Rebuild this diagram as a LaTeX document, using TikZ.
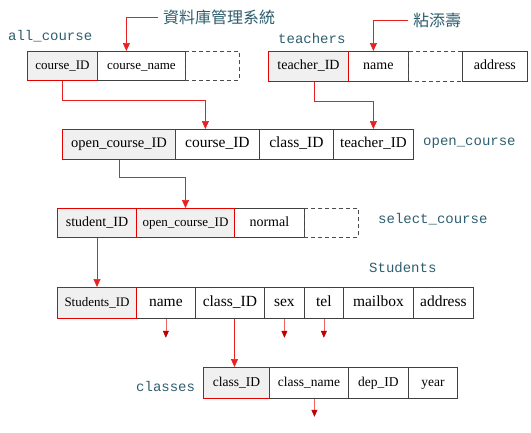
\documentclass[tikz,border=0pt]{standalone}
\usepackage{fontspec}
\setmainfont{Liberation Serif}
\setmonofont{Liberation Mono}
\newfontfamily\cjk{Noto Sans CJK TC}
\usetikzlibrary{arrows.meta}
\definecolor{lbl}{HTML}{2E5E6E}
\definecolor{keyfill}{HTML}{F0F0F0}
\definecolor{lnk}{HTML}{E82020}
\definecolor{darklnk}{HTML}{C00000}
\newcommand{\fs}[1]{\fontsize{#1}{#1}\selectfont}
\begin{document}
\begin{tikzpicture}[x=1pt,y=-1pt,
  cellbase/.style={anchor=north west, inner sep=0pt, minimum height=30, font=\fs{14}, text=black, text height=0.75em, text depth=0.1em},
  plain/.style={cellbase, draw=black!75, fill=white, line width=0.8pt},
  keycell/.style={cellbase, draw=red!90!black, fill=keyfill, line width=1pt},
  emptycell/.style={cellbase, draw=black!70, dash pattern=on 4pt off 3pt, line width=0.8pt},
  tlabel/.style={font=\ttfamily\fs{14}, text=lbl, anchor=west, inner sep=0pt},
  cjklabel/.style={font=\cjk\fs{16}, text=lbl, anchor=west, inner sep=0pt},
  link/.style={draw=lnk, line width=0.7pt, -{Triangle[width=7pt,length=8pt]}},
  stub/.style={draw=lnk!70, line width=0.7pt, -{Triangle[width=6pt,length=7pt,color=darklnk]}},
]
\useasboundingbox (0,0) rectangle (531,432);

% ---- row 1: all_course and teachers
\node[tlabel] (lac) at (8,36) {all\_course};
\node[tlabel] (lte) at (278,38) {teachers};
\node[cjklabel] (t1) at (163,17) {資料庫管理系統};
\node[cjklabel] (t2) at (413,20) {粘添壽};

\node[plain, minimum width=88, minimum height=29, font=\fs{13}] (ac2) at (97,51) {course\_name};
\node[emptycell, minimum width=54, minimum height=29] (ac3) at (185,51) {};
\node[keycell, minimum width=70, minimum height=29, font=\fs{13}] (ac1) at (27,51) {course\_ID};

\node[plain, minimum width=60] (tc2) at (348,51) {name};
\node[emptycell, minimum width=54] (tc3) at (408,51) {};
\node[plain, minimum width=65] (tc4) at (462,51) {address};
\node[keycell, minimum width=80] (tc1) at (268,51) {teacher\_ID};

% ---- row 2: open_course
\node[tlabel] (loc) at (423,143) {open\_course};
\node[plain, minimum width=84, font=\fs{15.5}] (oc2) at (175,129) {course\_ID};
\node[plain, minimum width=74, font=\fs{15.5}] (oc3) at (259,129) {class\_ID};
\node[plain, minimum width=80, font=\fs{15}] (oc4) at (333,129) {teacher\_ID};
\node[keycell, minimum width=113, font=\fs{14.5}] (oc1) at (62,129) {open\_course\_ID};

% ---- row 3: select_course
\node[tlabel] (lsc) at (378,219) {select\_course};
\node[plain, minimum width=70, minimum height=29] (sc3) at (234,208) {normal};
\node[emptycell, minimum width=54, minimum height=29] (sc4) at (304,208) {};
\node[keycell, minimum width=79, minimum height=29] (sc1) at (57,208) {student\_ID};
\node[keycell, minimum width=98, minimum height=29, font=\fs{13}] (sc2) at (136,208) {open\_course\_ID};

% ---- row 4: Students
\node[tlabel] (lst) at (369,268) {Students};
\node[plain, minimum width=59, minimum height=31, font=\fs{15.5}] (s2) at (136,287) {name};
\node[plain, minimum width=69, minimum height=31, font=\fs{15.5}] (s3) at (195,287) {class\_ID};
\node[plain, minimum width=40, minimum height=31, font=\fs{15.5}] (s4) at (264,287) {sex};
\node[plain, minimum width=39, minimum height=31, font=\fs{15.5}] (s5) at (304,287) {tel};
\node[plain, minimum width=70, minimum height=31, font=\fs{15.5}] (s6) at (343,287) {mailbox};
\node[plain, minimum width=60, minimum height=31, font=\fs{15.5}] (s7) at (413,287) {address};
\node[keycell, minimum width=79, minimum height=31, font=\fs{13}] (s1) at (57,287) {Students\_ID};

% ---- row 5: classes
\node[tlabel] (lcl) at (136,386) {classes};
\node[plain, minimum width=79, minimum height=31, font=\fs{13.5}] (c2) at (269,367) {class\_name};
\node[plain, minimum width=60, minimum height=31, font=\fs{13.5}] (c3) at (348,367) {dep\_ID};
\node[plain, minimum width=49, minimum height=31, font=\fs{13.5}] (c4) at (408,367) {year};
\node[keycell, minimum width=66, minimum height=31, font=\fs{13.5}] (c1) at (203,367) {class\_ID};

% ---- connectors
\draw[link] ([xshift=-5]t1.west) -| ([xshift=-15]ac2.north);
\draw[link] ([xshift=-5]t2.west) -| ([xshift=-5]tc2.north);
\draw[link] (ac1.south) -- ++(0,19) -| ([xshift=-12]oc2.north);
\draw[link] ([xshift=6]tc1.south) -- ++(0,19) -| (oc4.north);
\draw[link] (oc1.south) -- ++(0,17) -| (sc2.north);
\draw[link] (sc1.south) -- (s1.north);
\draw[link] ([xshift=4.5]s3.south) -- ([xshift=-2]c1.north);

\coordinate (e1) at ([yshift=-19]s2.south);
\coordinate (e2) at ([yshift=-19]s4.south);
\coordinate (e3) at ([yshift=-19]s5.south);
\coordinate (e4) at ([xshift=5.5,yshift=-18]c2.south);
\draw[stub] (s2.south) -- (e1);
\draw[stub] (s4.south) -- (e2);
\draw[stub] (s5.south) -- (e3);
\draw[stub] ([xshift=5.5]c2.south) -- (e4);
\end{tikzpicture}
\end{document}
